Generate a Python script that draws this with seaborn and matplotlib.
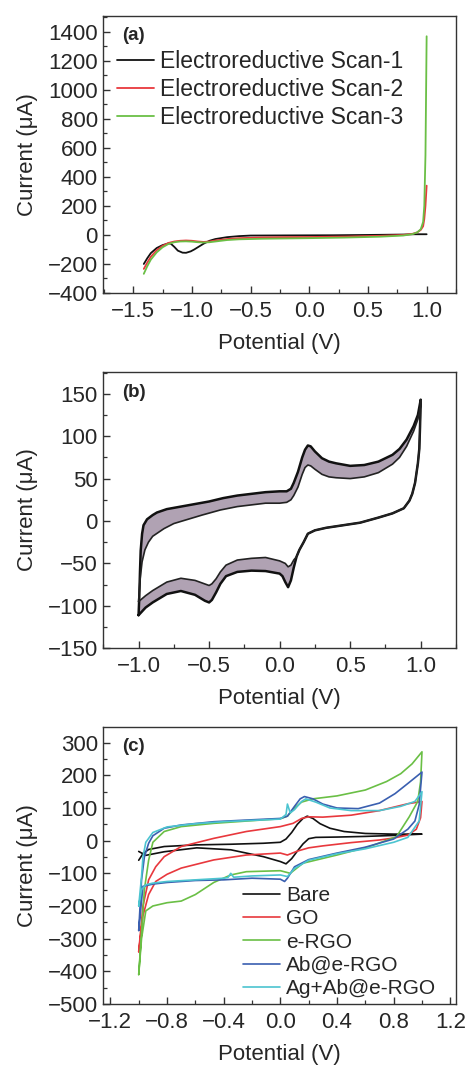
import numpy as np
import pandas as pd
import matplotlib
matplotlib.use("Agg")
import matplotlib.pyplot as plt
from matplotlib.ticker import MultipleLocator
import seaborn as sns

# ---------------- Panel (a) data ----------------
a_scan1_v = [-1.41, -1.38, -1.35, -1.3, -1.25, -1.2, -1.18, -1.15, -1.12, -1.08, -1.05, -1.01, -0.98, -0.94, -0.9, -0.85, -0.8, -0.7, -0.6, -0.5, -0.2, 0.2, 0.6, 0.8, 0.9, 1.0]
a_scan1_i = [-200, -160, -125, -90, -70, -58, -60, -82, -108, -122, -123, -113, -100, -80, -60, -40, -28, -15, -8, -4, -3, -2, 1, 3, 5, 5]
a_scan2_v = [-1.41, -1.38, -1.35, -1.3, -1.25, -1.2, -1.15, -1.1, -1.05, -1.0, -0.95, -0.9, -0.85, -0.8, -0.7, -0.6, -0.4, -0.2, 0.0, 0.3, 0.6, 0.8, 0.88, 0.92, 0.95, 0.97, 0.98, 0.99, 1.0]
a_scan2_i = [-234, -190, -150, -105, -75, -55, -45, -40, -38, -40, -45, -48, -45, -38, -28, -22, -17, -15, -14, -11, -6, 0, 8, 18, 35, 60, 110, 200, 340]
a_scan3_v = [-1.41, -1.38, -1.35, -1.3, -1.25, -1.2, -1.15, -1.1, -1.05, -1.0, -0.95, -0.9, -0.85, -0.8, -0.7, -0.6, -0.4, -0.2, 0.0, 0.3, 0.6, 0.8, 0.88, 0.92, 0.95, 0.97, 0.98, 0.99, 1.0]
a_scan3_i = [-268, -215, -170, -120, -85, -62, -50, -45, -44, -46, -50, -52, -50, -45, -35, -30, -26, -24, -22, -18, -12, -4, 6, 18, 40, 90, 200, 550, 1370]
a_labels = ["Electroreductive Scan-1", "Electroreductive Scan-2", "Electroreductive Scan-3"]
a_colors = ["#111111", "#e8383d", "#6abf45"]

# ---------------- Panel (b) data ----------------
b_outer_fwd_v = [-1.0, -0.995, -0.99, -0.985, -0.975, -0.965, -0.94, -0.9, -0.87, -0.8, -0.7, -0.6, -0.5, -0.4, -0.3, -0.2, -0.1, 0.0, 0.05, 0.08, 0.1, 0.13, 0.16, 0.18, 0.2, 0.22, 0.25, 0.3, 0.35, 0.4, 0.5, 0.6, 0.7, 0.8, 0.85, 0.9, 0.95, 0.98, 1.0]
b_outer_fwd_i = [-111, -90, -60, -35, -15, -5, 2, 7, 10, 14, 17, 20, 23, 27, 30, 32, 34, 35, 35, 38, 45, 58, 75, 84, 89, 88, 82, 74, 70, 68, 65, 66, 70, 78, 85, 96, 112, 125, 143]
b_inner_fwd_v = [-1.0, -0.99, -0.975, -0.955, -0.93, -0.9, -0.82, -0.75, -0.65, -0.55, -0.42, -0.3, -0.2, -0.1, 0.0, 0.05, 0.08, 0.1, 0.13, 0.16, 0.18, 0.2, 0.22, 0.25, 0.3, 0.35, 0.4, 0.5, 0.6, 0.7, 0.8, 0.85, 0.9, 0.95, 0.98, 1.0]
b_inner_fwd_i = [-95, -70, -48, -34, -25, -18, -9, -3, 2, 7, 13, 17, 19, 21, 21, 22, 25, 30, 40, 55, 63, 66, 65, 61, 55, 52, 51, 50, 52, 57, 67, 75, 88, 106, 120, 135]
b_rev_v = [1.0, 0.995, 0.99, 0.98, 0.96, 0.94, 0.92, 0.88, 0.8, 0.7, 0.57, 0.45, 0.33, 0.25, 0.2, 0.17, 0.14, 0.12]
b_rev_i = [143, 110, 85, 68, 45, 32, 24, 15, 9, 4, -2, -5, -8, -11, -15, -25, -34, -42]
b_outer_low_v = [0.12, 0.1, 0.08, 0.06, 0.04, 0.02, 0.0, -0.1, -0.2, -0.3, -0.38, -0.42, -0.45, -0.48, -0.5, -0.53, -0.6, -0.7, -0.8, -0.9, -0.95, -1.0]
b_outer_low_i = [-42, -55, -70, -78, -72, -65, -62, -59, -58.5, -60, -65, -74, -84, -93, -96, -94, -87, -82.5, -86, -96, -102, -111]
b_inner_low_v = [0.12, 0.1, 0.08, 0.06, 0.04, 0.0, -0.1, -0.2, -0.3, -0.38, -0.42, -0.45, -0.48, -0.5, -0.55, -0.6, -0.7, -0.8, -0.9, -0.95, -1.0]
b_inner_low_i = [-42, -46, -52, -54, -50, -47, -43, -44, -46, -52, -60, -68, -74, -76, -73, -70, -67.5, -72, -82, -88, -95]

# ---------------- Panel (c) data ----------------
c_labels = ["Bare", "GO", "e-RGO", "Ab@e-RGO", "Ag+Ab@e-RGO"]
c_colors = ["#111111", "#e8383d", "#6abf45", "#3a5fb0", "#4cc4d0"]

bare_v = [-1.0, -0.97, -0.93, -0.82, -0.6, -0.35, -0.12, 0.0, 0.04, 0.08, 0.12, 0.16, 0.19, 0.23, 0.28, 0.35, 0.45, 0.6, 0.8, 1.0,
          1.0, 0.8, 0.6, 0.4, 0.25, 0.2, 0.16, 0.12, 0.08, 0.04, 0.0, -0.12, -0.35, -0.59, -0.82, -0.95, -1.0]
bare_i = [-60, -40, -27, -18, -13, -11, -8, -5, 5, 25, 50, 68, 75, 68, 52, 38, 28, 22, 20, 20,
          20, 16, 13, 11, 10, 6, -10, -32, -55, -71, -64, -49, -28, -22, -34, -45, -33]

go_v = [-1.0, -0.97, -0.93, -0.88, -0.82, -0.7, -0.47, -0.24, 0.0, 0.09, 0.15, 0.2, 0.3, 0.5, 0.7, 0.9, 1.0,
        1.0, 0.99, 0.96, 0.9, 0.8, 0.7, 0.5, 0.3, 0.2, 0.12, 0.05, 0.0, -0.24, -0.47, -0.7, -0.8, -0.88, -0.93, -0.97, -1.0]
go_i = [-340, -200, -120, -80, -49, -18, 7, 28, 43, 53, 68, 73, 72, 78, 92, 113, 120,
        120, 70, 35, 17, 8, 2, -6, -16, -22, -32, -44, -38, -44, -59, -84, -103, -125, -165, -230, -340]

ergo_v = [-1.0, -0.98, -0.96, -0.93, -0.9, -0.82, -0.7, -0.47, -0.24, 0.0, 0.05, 0.1, 0.15, 0.23, 0.4, 0.6, 0.75, 0.85, 0.93, 1.0,
          1.0, 0.99, 0.97, 0.91, 0.82, 0.63, 0.4, 0.16, 0.07, 0.0, -0.24, -0.35, -0.47, -0.6, -0.7, -0.8, -0.9, -0.95, -0.98, -1.0]
ergo_i = [-410, -280, -150, -60, -5, 28, 43, 53, 60, 67, 75, 100, 118, 128, 137, 155, 181, 205, 235, 272,
          272, 180, 120, 73, 12, -18, -44, -69, -100, -92, -95, -105, -128, -165, -185, -190, -200, -215, -300, -410]

ab_v = [-1.0, -0.98, -0.96, -0.93, -0.9, -0.82, -0.7, -0.47, -0.24, 0.0, 0.05, 0.1, 0.14, 0.17, 0.23, 0.3, 0.4, 0.55, 0.7, 0.81, 0.9, 1.0,
        1.0, 0.98, 0.95, 0.9, 0.8, 0.6, 0.4, 0.2, 0.1, 0.05, 0.03, 0.0, -0.2, -0.4, -0.6, -0.8, -0.9, -0.97, -1.0]
ab_i = [-275, -120, -50, -8, 15, 38, 48, 58, 63, 68, 75, 105, 128, 135, 128, 112, 100, 98, 115, 144, 175, 210,
        210, 110, 60, 35, 5, -20, -38, -58, -80, -115, -125, -118, -115, -120, -122, -128, -133, -140, -275]

agab_v = [-1.0, -0.98, -0.97, -0.95, -0.9, -0.8, -0.6, -0.4, -0.2, 0.0, 0.04, 0.05, 0.07, 0.1, 0.15, 0.18, 0.25, 0.35, 0.5, 0.7, 0.85, 0.95, 1.0,
          1.0, 0.98, 0.9, 0.8, 0.6, 0.4, 0.2, 0.1, 0.05, 0.0, -0.2, -0.33, -0.35, -0.37, -0.4, -0.6, -0.8, -0.9, -0.95, -0.98, -1.0]
agab_i = [-200, -110, -50, -5, 25, 42, 52, 58, 62, 66, 80, 112, 85, 95, 120, 128, 118, 100, 92, 92, 105, 120, 150,
          150, 60, 10, -5, -25, -40, -60, -85, -110, -105, -108, -112, -100, -113, -115, -120, -125, -130, -135, -150, -200]

c_v = [bare_v, go_v, ergo_v, ab_v, agab_v]
c_i = [bare_i, go_i, ergo_i, ab_i, agab_i]

# ---------------- Style ----------------
sns.set_theme(style="ticks")
plt.rcParams["font.family"] = ["Liberation Sans", "DejaVu Sans"]
plt.rcParams["axes.unicode_minus"] = True

FS = 16
fig = plt.figure(figsize=(4.67, 10.65), dpi=100)
left, width = 0.2212, 0.7552
ax_a = fig.add_axes([left, 0.7249, width, 0.2601])
ax_b = fig.add_axes([left, 0.3913, width, 0.2597])
ax_c = fig.add_axes([left, 0.0573, width, 0.2604])


def style_axes(ax):
    for s in ax.spines.values():
        s.set_color("#333333")
        s.set_linewidth(1.0)
    ax.tick_params(which="major", direction="in", length=5, width=1.0, color="#333333",
                   labelsize=FS, top=False, right=False)
    ax.tick_params(which="minor", direction="in", length=3, width=0.9, color="#333333",
                   top=False, right=False)
    ax.tick_params(axis="x", which="major", pad=5.5)
    ax.tick_params(axis="y", which="major", pad=4)
    ax.set_xlabel("Potential (V)", fontsize=FS, labelpad=8)
    ax.set_ylabel("Current (\u03bcA)", fontsize=FS, labelpad=7)


def draw(ax, v, i, color, label=None, lw=1.2):
    df = pd.DataFrame({"v": v, "i": i})
    sns.lineplot(data=df, x="v", y="i", sort=False, estimator=None, color=color,
                 linewidth=lw, label=label, ax=ax, legend=False)

# Panel (a)
for v, i, col, lab in zip([a_scan1_v, a_scan2_v, a_scan3_v], [a_scan1_i, a_scan2_i, a_scan3_i], a_colors, a_labels):
    draw(ax_a, v, i, col, lab, lw=1.3)
ax_a.set_xlim(-1.755, 1.25)
ax_a.set_ylim(-400, 1510)
ax_a.xaxis.set_major_locator(MultipleLocator(0.5))
ax_a.xaxis.set_minor_locator(MultipleLocator(0.25))
ax_a.yaxis.set_major_locator(MultipleLocator(200))
ax_a.yaxis.set_minor_locator(MultipleLocator(100))
style_axes(ax_a)
ax_a.text(0.054, 0.962, "(a)", transform=ax_a.transAxes, fontsize=13.5, fontweight="bold", va="top", ha="left")
ax_a.legend(loc="upper left", bbox_to_anchor=(0.04, 0.878), frameon=False, fontsize=16.5,
            handlelength=1.6, handletextpad=0.25, labelspacing=0.22, borderpad=0, borderaxespad=0)

# Panel (b)
band_color = "#a898ab"
ax_b.fill(b_outer_fwd_v + b_inner_fwd_v[::-1], b_outer_fwd_i + b_inner_fwd_i[::-1],
          color=band_color, alpha=0.9, lw=0)
ax_b.fill(b_outer_low_v + b_inner_low_v[::-1], b_outer_low_i + b_inner_low_i[::-1],
          color=band_color, alpha=0.9, lw=0)
draw(ax_b, b_outer_fwd_v + b_rev_v + b_outer_low_v, b_outer_fwd_i + b_rev_i + b_outer_low_i, "#111111", lw=1.8)
draw(ax_b, b_inner_fwd_v + b_rev_v + b_inner_low_v, b_inner_fwd_i + b_rev_i + b_inner_low_i, "#222222", lw=1.2)
ax_b.set_xlim(-1.25, 1.25)
ax_b.set_ylim(-150, 176)
ax_b.xaxis.set_major_locator(MultipleLocator(0.5))
ax_b.xaxis.set_minor_locator(MultipleLocator(0.25))
ax_b.yaxis.set_major_locator(MultipleLocator(50))
ax_b.yaxis.set_minor_locator(MultipleLocator(25))
style_axes(ax_b)
ax_b.text(0.054, 0.957, "(b)", transform=ax_b.transAxes, fontsize=13.5, fontweight="bold", va="top", ha="left")

# Panel (c)
for v, i, col, lab in zip(c_v, c_i, c_colors, c_labels):
    draw(ax_c, v, i, col, lab, lw=1.2)
ax_c.set_xlim(-1.25, 1.24)
ax_c.set_ylim(-500, 349)
ax_c.xaxis.set_major_locator(MultipleLocator(0.4))
ax_c.xaxis.set_minor_locator(MultipleLocator(0.2))
ax_c.yaxis.set_major_locator(MultipleLocator(100))
ax_c.yaxis.set_minor_locator(MultipleLocator(50))
style_axes(ax_c)
ax_c.text(0.054, 0.96, "(c)", transform=ax_c.transAxes, fontsize=13.5, fontweight="bold", va="top", ha="left")
ax_c.legend(loc="upper left", bbox_to_anchor=(0.397, 0.426), frameon=False, fontsize=15,
            handlelength=1.75, handletextpad=0.3, labelspacing=0.21, borderpad=0, borderaxespad=0)

fig.savefig("out.png", dpi=100)
